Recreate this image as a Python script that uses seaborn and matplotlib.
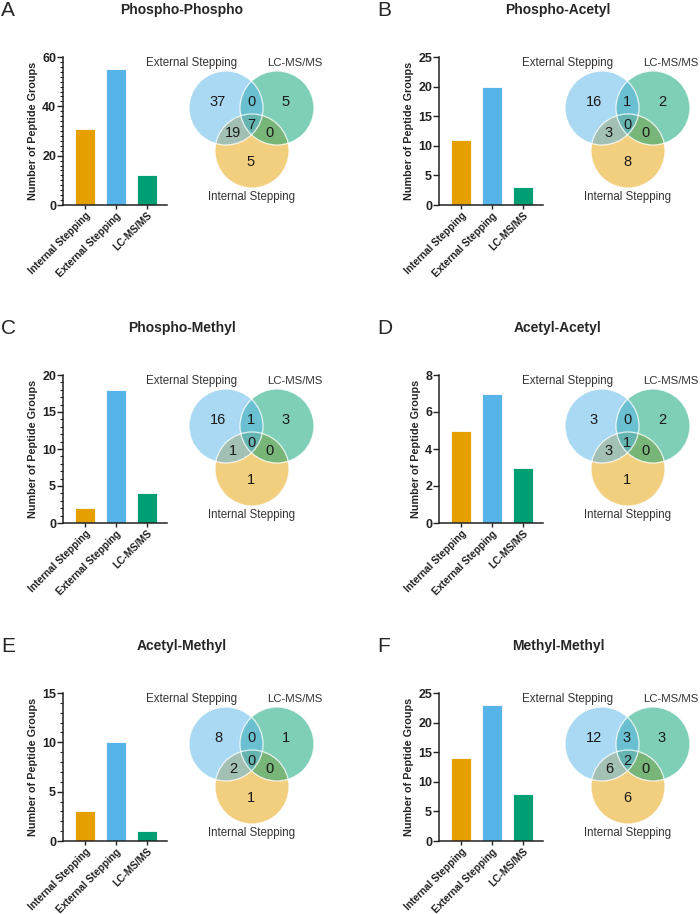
import matplotlib
matplotlib.use("Agg")
import matplotlib.pyplot as plt
from matplotlib.patches import Circle
from matplotlib.ticker import MultipleLocator
import seaborn as sns
import pandas as pd

sns.set_theme(style="ticks")
plt.rcParams['font.family'] = ['Liberation Sans', 'DejaVu Sans']

# ---------------- data ----------------
panel_letters = ['A', 'B', 'C', 'D', 'E', 'F']
titles = ['Phospho-Phospho', 'Phospho-Acetyl', 'Phospho-Methyl',
          'Acetyl-Acetyl', 'Acetyl-Methyl', 'Methyl-Methyl']
categories = ['Internal Stepping', 'External Stepping', 'LC-MS/MS']

bars_A = [31, 55, 12]
bars_B = [11, 20, 3]
bars_C = [2, 18, 4]
bars_D = [5, 7, 3]
bars_E = [3, 10, 1]
bars_F = [14, 23, 8]

# venn regions: ext only, ext&lc, lc only, ext&int, all, lc&int, int only
venn_A = [37, 0, 5, 19, 7, 0, 5]
venn_B = [16, 1, 2, 3, 0, 0, 8]
venn_C = [16, 1, 3, 1, 0, 0, 1]
venn_D = [3, 0, 2, 3, 1, 0, 1]
venn_E = [8, 0, 1, 2, 0, 0, 1]
venn_F = [12, 3, 3, 6, 2, 0, 6]

ymax = [60, 25, 20, 8, 15, 25]
ymajor = [20, 5, 5, 2, 5, 5]
yminor = [2, None, 1, None, 1, None]

bar_sets = [bars_A, bars_B, bars_C, bars_D, bars_E, bars_F]
venn_sets = [venn_A, venn_B, venn_C, venn_D, venn_E, venn_F]

bar_colors = ['#E69F00', '#56B4E9', '#009E73']

# ---------------- layout ----------------
W, H = 700, 914
fig = plt.figure(figsize=(W / 100, H / 100), dpi=100)


def add_px(x0, y0, w, h):
    return fig.add_axes([x0 / W, 1 - (y0 + h) / H, w / W, h / H])


col_off = [0, 376]
row_off = [0, 318, 636]

for i in range(6):
    ox = col_off[i % 2]
    oy = row_off[i // 2]

    # panel letter and title
    fig.text((ox + 1) / W, 1 - (oy + 11) / H, panel_letters[i], fontsize=15,
             ha='left', va='center')
    fig.text((ox + 182) / W, 1 - (oy + 10) / H, titles[i], fontsize=10,
             fontweight='bold', ha='center', va='center')

    # bar chart
    ax = add_px(ox + 63, oy + 57, 104, 148)
    df = pd.DataFrame({'cat': categories, 'val': bar_sets[i]})
    sns.barplot(data=df, x='cat', y='val', hue='cat', palette=bar_colors,
                ax=ax, legend=False, width=0.65, edgecolor='white',
                linewidth=0.6, saturation=1)
    ax.set_xlim(-0.71, 2.65)
    ax.set_ylim(0, ymax[i])
    ax.yaxis.set_major_locator(MultipleLocator(ymajor[i]))
    if yminor[i]:
        ax.yaxis.set_minor_locator(MultipleLocator(yminor[i]))
    ax.set_facecolor('none')
    for s in ['top', 'right']:
        ax.spines[s].set_visible(False)
    for s in ['left', 'bottom']:
        ax.spines[s].set_linewidth(1.1)
        ax.spines[s].set_color('#222222')
    ax.tick_params(axis='y', which='major', length=4, width=1.0, pad=1,
                   labelsize=9, colors='#222222')
    ax.tick_params(axis='y', which='minor', length=2, width=0.8, colors='#222222')
    ax.tick_params(axis='x', length=3, width=1.0, pad=1, labelsize=7.3,
                   colors='#222222')
    for lab in ax.get_yticklabels():
        lab.set_fontweight('bold')
    ax.set_xticks(range(3))
    ax.set_xticklabels(categories, rotation=45, ha='right',
                       rotation_mode='anchor', fontweight='bold')
    ax.set_xlabel('')
    ax.set_ylabel('Number of Peptide Groups', fontsize=7.8, fontweight='bold',
                  labelpad=3)

    # venn diagram (pixel-space axes)
    vx0, vy0, vw, vh = 140, 50, 180, 160
    vax = add_px(ox + vx0, oy + vy0, vw, vh)
    vax.set_xlim(vx0, vx0 + vw)
    vax.set_ylim(vy0 + vh, vy0)
    vax.axis('off')
    r = 37
    centers = {'int': (252, 151), 'lc': (277, 108), 'ext': (226, 108)}
    cols = {'int': '#E69F00', 'lc': '#009E73', 'ext': '#56B4E9'}
    for k in ['int', 'lc', 'ext']:
        vax.add_patch(Circle(centers[k], r, facecolor=cols[k], alpha=0.5,
                             edgecolor='none', clip_on=False))
    for k in ['int', 'lc', 'ext']:
        vax.add_patch(Circle(centers[k], r, facecolor='none',
                             edgecolor='white', lw=0.9, alpha=0.8,
                             clip_on=False))
    pos = [(218, 102), (251, 102), (286, 102), (233, 133), (251, 125),
           (269, 133), (251, 162)]
    for (px, py), v in zip(pos, venn_sets[i]):
        vax.text(px, py, str(v), fontsize=10.5, ha='center', va='center',
                 color='#1a1a1a', clip_on=False)
    vax.text(192, 63, 'External Stepping', fontsize=8.3, ha='center',
             va='center', color='#333333', clip_on=False)
    vax.text(295, 63, 'LC-MS/MS', fontsize=8.2, ha='center', va='center',
             color='#333333', clip_on=False)
    vax.text(252, 197, 'Internal Stepping', fontsize=8.3, ha='center',
             va='center', color='#333333', clip_on=False)

fig.savefig('out.png', dpi=100, facecolor='white')
